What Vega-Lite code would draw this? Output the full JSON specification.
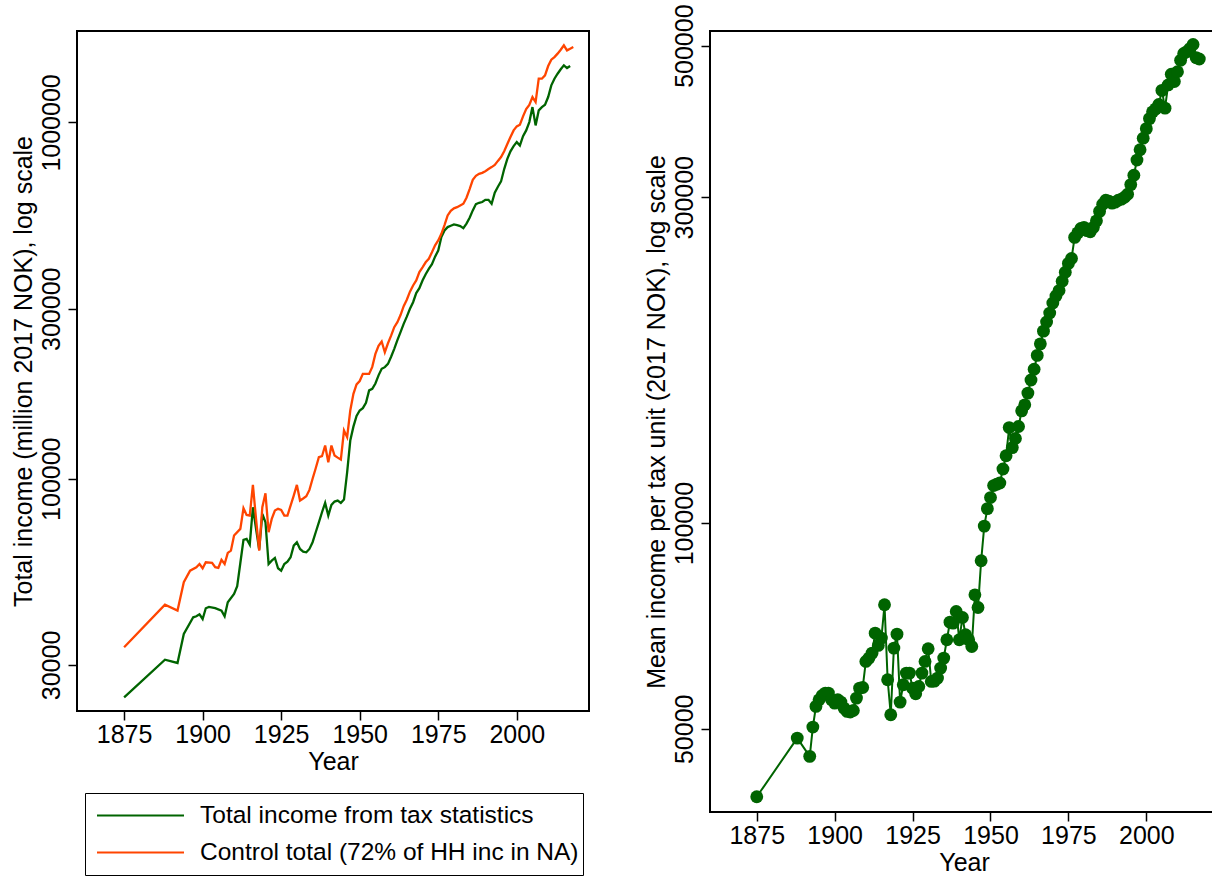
{
  "$schema": "https://vega.github.io/schema/vega-lite/v6.json",
  "padding": {"left": 10, "top": 2, "right": 0, "bottom": 0},
  "background": "white",
  "config": {
    "font": "Liberation Sans",
    "view": {"stroke": "black", "strokeWidth": 2},
    "axis": {"domain": false, "grid": false, "labelFont": "Liberation Sans", "labelFontSize": 25, "labelColor": "black", "titleFont": "Liberation Sans", "titleFontSize": 25, "titleFontWeight": "normal", "titleColor": "black", "tickColor": "black", "tickSize": 9, "tickWidth": 1.5, "labelPadding": 2},
    "axisY": {"labelAngle": -90, "labelAlign": "center", "labelBaseline": "bottom", "labelPadding": 4, "minExtent": 38, "maxExtent": 38, "titlePadding": 3},
    "axisX": {"titlePadding": 2},
    "concat": {"spacing": 53}
  },
  "datasets": {
    "tax": [
      {"year":1875,"v":24340},{"year":1888,"v":31050},{"year":1892,"v":30390},{"year":1894,"v":36660},{"year":1897,"v":40830},{"year":1898,"v":41090},{"year":1899,"v":41640},{"year":1900,"v":40380},{"year":1901,"v":43290},{"year":1902,"v":43660},{"year":1904,"v":43300},{"year":1906,"v":42630},{"year":1907,"v":41090},{"year":1908,"v":45000},{"year":1910,"v":47500},{"year":1911,"v":49900},{"year":1912,"v":58000},{"year":1913,"v":67330},{"year":1914,"v":67770},{"year":1915,"v":65310},{"year":1916,"v":83160},{"year":1917,"v":72300},{"year":1918,"v":63240},{"year":1919,"v":79650},{"year":1920,"v":75450},{"year":1921,"v":57630},{"year":1922,"v":58890},{"year":1923,"v":59910},{"year":1924,"v":56040},{"year":1925,"v":55200},{"year":1926,"v":57630},{"year":1927,"v":58530},{"year":1928,"v":60180},{"year":1929,"v":64890},{"year":1930,"v":66330},{"year":1931,"v":63510},{"year":1932,"v":62430},{"year":1933,"v":62160},{"year":1934,"v":63510},{"year":1935,"v":66330},{"year":1936,"v":70740},{"year":1937,"v":75450},{"year":1938,"v":80520},{"year":1939,"v":85530},{"year":1940,"v":78810},{"year":1941,"v":84420},{"year":1942,"v":86250},{"year":1943,"v":86820},{"year":1944,"v":85530},{"year":1945,"v":87390},{"year":1946,"v":104250},{"year":1947,"v":127980},{"year":1948,"v":140000},{"year":1949,"v":150000},{"year":1950,"v":155370},{"year":1951,"v":157740},{"year":1952,"v":163290},{"year":1953,"v":177000},{"year":1954,"v":178700},{"year":1955,"v":185000},{"year":1956,"v":195000},{"year":1957,"v":203430},{"year":1958,"v":205650},{"year":1959,"v":210000},{"year":1960,"v":220000},{"year":1961,"v":231480},{"year":1962,"v":245000},{"year":1963,"v":258000},{"year":1964,"v":272130},{"year":1965,"v":285000},{"year":1966,"v":300000},{"year":1967,"v":312900},{"year":1968,"v":332000},{"year":1969,"v":342600},{"year":1970,"v":360000},{"year":1971,"v":375000},{"year":1972,"v":388200},{"year":1973,"v":400000},{"year":1974,"v":420000},{"year":1975,"v":437100},{"year":1976,"v":476700},{"year":1977,"v":497700},{"year":1978,"v":508500},{"year":1979,"v":513000},{"year":1980,"v":517200},{"year":1981,"v":515000},{"year":1982,"v":512000},{"year":1983,"v":505200},{"year":1984,"v":520000},{"year":1985,"v":540000},{"year":1986,"v":566400},{"year":1987,"v":590000},{"year":1988,"v":595000},{"year":1989,"v":598000},{"year":1990,"v":606600},{"year":1991,"v":606600},{"year":1992,"v":591300},{"year":1993,"v":635000},{"year":1994,"v":660000},{"year":1995,"v":683100},{"year":1996,"v":740000},{"year":1997,"v":790000},{"year":1998,"v":830000},{"year":1999,"v":858300},{"year":2000,"v":880800},{"year":2001,"v":861900},{"year":2002,"v":915600},{"year":2003,"v":949800},{"year":2004,"v":1002300},{"year":2005,"v":1104300},{"year":2006,"v":981000},{"year":2007,"v":1080900},{"year":2008,"v":1104300},{"year":2009,"v":1121100},{"year":2010,"v":1178400},{"year":2011,"v":1271100},{"year":2012,"v":1326900},{"year":2013,"v":1370100},{"year":2014,"v":1410000},{"year":2015,"v":1446300},{"year":2016,"v":1421100},{"year":2017,"v":1440000}
    ],
    "ctl": [
      {"year":1875,"v":33630},{"year":1888,"v":44310},{"year":1892,"v":42630},{"year":1894,"v":51210},{"year":1896,"v":55200},{"year":1898,"v":56430},{"year":1899,"v":57630},{"year":1900,"v":56040},{"year":1901,"v":58260},{"year":1903,"v":58020},{"year":1904,"v":56430},{"year":1905,"v":56190},{"year":1906,"v":59160},{"year":1907,"v":57630},{"year":1908,"v":61890},{"year":1909,"v":62820},{"year":1910,"v":69240},{"year":1912,"v":72300},{"year":1913,"v":82620},{"year":1914,"v":79140},{"year":1915,"v":78810},{"year":1916,"v":96090},{"year":1917,"v":77100},{"year":1918,"v":62820},{"year":1919,"v":83160},{"year":1920,"v":91020},{"year":1921,"v":70740},{"year":1922,"v":77100},{"year":1923,"v":81390},{"year":1924,"v":82290},{"year":1925,"v":81720},{"year":1926,"v":78810},{"year":1927,"v":78810},{"year":1929,"v":89640},{"year":1930,"v":96090},{"year":1931,"v":86820},{"year":1932,"v":88000},{"year":1933,"v":89280},{"year":1934,"v":93000},{"year":1935,"v":100000},{"year":1936,"v":107000},{"year":1937,"v":114900},{"year":1938,"v":115650},{"year":1939,"v":123900},{"year":1940,"v":111240},{"year":1941,"v":123900},{"year":1942,"v":116160},{"year":1943,"v":114600},{"year":1944,"v":113190},{"year":1945,"v":136500},{"year":1946,"v":130740},{"year":1947,"v":155370},{"year":1948,"v":173040},{"year":1949,"v":184000},{"year":1950,"v":188000},{"year":1951,"v":196900},{"year":1952,"v":197000},{"year":1953,"v":196900},{"year":1954,"v":206000},{"year":1955,"v":224000},{"year":1956,"v":236000},{"year":1957,"v":242700},{"year":1958,"v":226500},{"year":1959,"v":240000},{"year":1960,"v":252000},{"year":1961,"v":266300},{"year":1962,"v":275000},{"year":1963,"v":288000},{"year":1964,"v":305000},{"year":1965,"v":318000},{"year":1966,"v":335000},{"year":1967,"v":348700},{"year":1968,"v":360100},{"year":1969,"v":380200},{"year":1970,"v":392000},{"year":1971,"v":405000},{"year":1972,"v":414300},{"year":1973,"v":432000},{"year":1974,"v":452000},{"year":1975,"v":466500},{"year":1976,"v":486900},{"year":1977,"v":515000},{"year":1978,"v":548100},{"year":1979,"v":565000},{"year":1980,"v":574000},{"year":1981,"v":578400},{"year":1982,"v":585000},{"year":1983,"v":591300},{"year":1984,"v":615000},{"year":1985,"v":650000},{"year":1986,"v":690000},{"year":1987,"v":708000},{"year":1988,"v":717600},{"year":1989,"v":722000},{"year":1990,"v":730000},{"year":1991,"v":740000},{"year":1992,"v":749400},{"year":1993,"v":760000},{"year":1994,"v":780000},{"year":1995,"v":799500},{"year":1996,"v":830000},{"year":1997,"v":870000},{"year":1998,"v":909900},{"year":1999,"v":950000},{"year":2000,"v":975000},{"year":2001,"v":985500},{"year":2002,"v":1040000},{"year":2003,"v":1090000},{"year":2004,"v":1120000},{"year":2005,"v":1178400},{"year":2006,"v":1140900},{"year":2007,"v":1326900},{"year":2008,"v":1326900},{"year":2009,"v":1355700},{"year":2010,"v":1440000},{"year":2011,"v":1500000},{"year":2012,"v":1526100},{"year":2013,"v":1560000},{"year":2014,"v":1600000},{"year":2015,"v":1645800},{"year":2016,"v":1593600},{"year":2017,"v":1611000},{"year":2018,"v":1628100}
    ],
    "mean": [
      {"year":1875,"m":39760},{"year":1888,"m":48450},{"year":1892,"m":45560},{"year":1893,"m":50290},{"year":1894,"m":53920},{"year":1895,"m":55140},{"year":1896,"m":55950},{"year":1897,"m":56390},{"year":1898,"m":56390},{"year":1899,"m":55140},{"year":1900,"m":54520},{"year":1901,"m":55140},{"year":1902,"m":54700},{"year":1903,"m":53610},{"year":1904,"m":53010},{"year":1905,"m":52900},{"year":1906,"m":53190},{"year":1907,"m":55450},{"year":1908,"m":57340},{"year":1909,"m":57470},{"year":1910,"m":62740},{"year":1911,"m":63450},{"year":1912,"m":64530},{"year":1913,"m":69020},{"year":1914,"m":66220},{"year":1915,"m":67870},{"year":1916,"m":75940},{"year":1917,"m":58980},{"year":1918,"m":52420},{"year":1919,"m":65620},{"year":1920,"m":68790},{"year":1921,"m":54700},{"year":1922,"m":58000},{"year":1923,"m":60320},{"year":1924,"m":60320},{"year":1925,"m":57340},{"year":1926,"m":56260},{"year":1927,"m":57670},{"year":1928,"m":60320},{"year":1929,"m":62740},{"year":1930,"m":65480},{"year":1931,"m":58650},{"year":1932,"m":58720},{"year":1933,"m":59310},{"year":1934,"m":61350},{"year":1935,"m":63450},{"year":1936,"m":67490},{"year":1937,"m":71620},{"year":1938,"m":71380},{"year":1939,"m":74250},{"year":1940,"m":67490},{"year":1941,"m":72770},{"year":1942,"m":68640},{"year":1943,"m":67490},{"year":1944,"m":65990},{"year":1945,"m":78540},{"year":1946,"m":75260},{"year":1947,"m":88080},{"year":1948,"m":99000},{"year":1949,"m":105000},{"year":1950,"m":109000},{"year":1951,"m":113500},{"year":1952,"m":114000},{"year":1953,"m":114500},{"year":1954,"m":120000},{"year":1955,"m":125500},{"year":1956,"m":138000},{"year":1957,"m":129000},{"year":1958,"m":133000},{"year":1959,"m":138500},{"year":1960,"m":146000},{"year":1961,"m":149000},{"year":1962,"m":155000},{"year":1963,"m":162000},{"year":1964,"m":168000},{"year":1965,"m":176000},{"year":1966,"m":183000},{"year":1967,"m":191000},{"year":1968,"m":197000},{"year":1969,"m":203000},{"year":1970,"m":210000},{"year":1971,"m":215000},{"year":1972,"m":219000},{"year":1973,"m":226000},{"year":1974,"m":233000},{"year":1975,"m":240000},{"year":1976,"m":244000},{"year":1977,"m":262000},{"year":1978,"m":266000},{"year":1979,"m":270000},{"year":1980,"m":271000},{"year":1981,"m":268000},{"year":1982,"m":267000},{"year":1983,"m":271000},{"year":1984,"m":277000},{"year":1985,"m":286000},{"year":1986,"m":293000},{"year":1987,"m":297000},{"year":1988,"m":296000},{"year":1989,"m":294000},{"year":1990,"m":295000},{"year":1991,"m":297000},{"year":1992,"m":298000},{"year":1993,"m":300000},{"year":1994,"m":303000},{"year":1995,"m":313000},{"year":1996,"m":323000},{"year":1997,"m":340000},{"year":1998,"m":352000},{"year":1999,"m":366000},{"year":2000,"m":378000},{"year":2001,"m":391000},{"year":2002,"m":400000},{"year":2003,"m":404000},{"year":2004,"m":410000},{"year":2005,"m":430000},{"year":2006,"m":405000},{"year":2007,"m":438000},{"year":2008,"m":454000},{"year":2009,"m":443000},{"year":2010,"m":458000},{"year":2011,"m":476000},{"year":2012,"m":487000},{"year":2013,"m":490000},{"year":2014,"m":495000},{"year":2015,"m":502000},{"year":2016,"m":480000},{"year":2017,"m":478000}
    ]
  },
  "hconcat": [
    {
      "width": 512,
      "height": 680,
      "encoding": {
        "x": {"field": "year", "type": "quantitative", "scale": {"domain": [1860, 2023], "nice": false, "zero": false}, "axis": {"values": [1875, 1900, 1925, 1950, 1975, 2000], "format": "d", "title": "Year"}},
        "y": {"field": "v", "type": "quantitative", "scale": {"type": "log", "domain": [22280, 1806000], "nice": false}, "axis": {"values": [30000, 100000, 300000, 1000000], "format": "d", "title": "Total income (million 2017 NOK), log scale"}}
      },
      "layer": [
        {
          "data": {"name": "tax"},
          "mark": {"type": "line", "strokeWidth": 2.3},
          "encoding": {
            "color": {
              "datum": "Total income from tax statistics",
              "scale": {"domain": ["Total income from tax statistics", "Control total (72% of HH inc in NA)"], "range": ["#006400", "#FF4500"]},
              "legend": {"orient": "none", "legendX": 8, "legendY": 762, "title": null, "direction": "vertical", "symbolType": "stroke", "symbolSize": 7569, "symbolStrokeWidth": 2, "clipHeight": 37, "labelFontSize": 24.5, "labelFont": "Liberation Sans", "labelColor": "black", "labelLimit": 0, "strokeColor": "black", "fillColor": "white", "padding": 4, "symbolOffset": 7, "labelOffset": 15, "rowPadding": 0}
            }
          }
        },
        {
          "data": {"name": "ctl"},
          "mark": {"type": "line", "strokeWidth": 2.3},
          "encoding": {
            "color": {"datum": "Control total (72% of HH inc in NA)"}
          }
        }
      ]
    },
    {
      "width": 508,
      "height": 781,
      "data": {"name": "mean"},
      "mark": {"type": "line", "color": "#006400", "strokeWidth": 2, "point": {"filled": true, "size": 165, "color": "#006400", "opacity": 1}},
      "encoding": {
        "x": {"field": "year", "type": "quantitative", "scale": {"domain": [1860, 2023], "nice": false, "zero": false}, "axis": {"values": [1875, 1900, 1925, 1950, 1975, 2000], "format": "d", "title": "Year"}},
        "y": {"field": "m", "type": "quantitative", "scale": {"type": "log", "domain": [37770, 525300], "nice": false}, "axis": {"values": [50000, 100000, 300000, 500000], "format": "d", "title": "Mean income per tax unit (2017 NOK), log scale"}}
      }
    }
  ]
}
